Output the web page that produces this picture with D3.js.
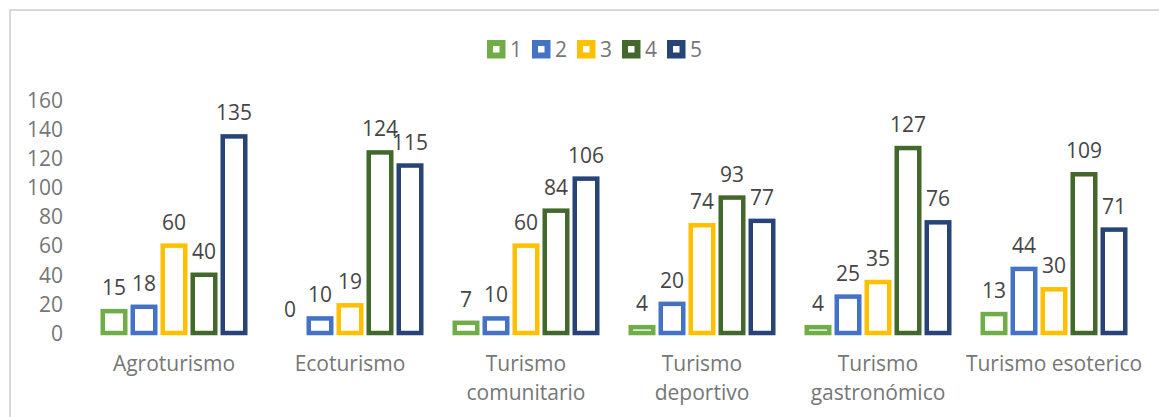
<!DOCTYPE html>
<html>
<head>
    <meta charset="utf-8">
    <script src="https://d3js.org/d3.v7.min.js"></script>
    <style>
        body { margin: 0; background: #fff; }
        text { font-family: "Open Sans", sans-serif; fill: #767676; }
        .tick-label, .value-label, .cat-label, .legend-label { font-size: 21px; }
        .value-label { fill: #454545; }
    </style>
</head>
<body>
<svg width="1159" height="417"></svg>
<script>
    // Data
    const categories = ["Agroturismo", "Ecoturismo", "Turismo\ncomunitario", "Turismo\ndeportivo", "Turismo\ngastronómico", "Turismo esoterico"];
    const seriesNames = ["1", "2", "3", "4", "5"];
    const s1 = [15, 0, 7, 4, 4, 13];
    const s2 = [18, 10, 10, 20, 25, 44];
    const s3 = [60, 19, 60, 74, 35, 30];
    const s4 = [40, 124, 84, 93, 127, 109];
    const s5 = [135, 115, 106, 77, 76, 71];
    const yTicks = [0, 20, 40, 60, 80, 100, 120, 140, 160];
    const seriesValues = [s1, s2, s3, s4, s5];
    const colors = ["#70AD47", "#4472C4", "#FFC000", "#43682B", "#264478"];

    const svg = d3.select("svg");
    const strokeW = 4.5;

    // Chart area border (open on the right and bottom, as in the picture)
    svg.append("rect")
        .attr("x", 10).attr("y", 10)
        .attr("width", 1200).attr("height", 500)
        .attr("fill", "none")
        .attr("stroke", "#d9d9d9")
        .attr("stroke-width", 2);

    // Scales
    const x0 = d3.scaleBand()
        .domain(categories)
        .range([86, 1142])
        .paddingInner(26 / 176)
        .paddingOuter(13 / 176);
    const x1 = d3.scaleBand()
        .domain(seriesNames)
        .range([0, x0.bandwidth()]);
    const y = d3.scaleLinear().domain([0, 160]).range([333, 100]);
    const color = d3.scaleOrdinal(seriesNames, colors);

    // Y axis labels (no line, no gridlines)
    const yAxis = svg.append("g")
        .attr("transform", "translate(63,0)")
        .call(d3.axisLeft(y).tickValues(yTicks).tickSize(0).tickPadding(0));
    yAxis.select(".domain").remove();
    yAxis.selectAll("text")
        .attr("class", "tick-label")
        .attr("font-family", null)
        .attr("font-size", null)
        .attr("fill", null)
        .attr("dy", "0.35em");

    // Bars
    const rows = categories.map((c, i) => seriesNames.map((s, j) => ({cat: c, series: s, value: seriesValues[j][i]})));
    const groups = svg.selectAll(".group")
        .data(rows)
        .enter().append("g")
        .attr("class", "group")
        .attr("transform", (d, i) => "translate(" + x0(categories[i]) + ",0)");

    const inset = 1.5 + strokeW / 2;
    groups.selectAll("rect")
        .data(d => d.filter(v => v.value > 0))
        .enter().append("rect")
        .attr("x", d => x1(d.series) + inset)
        .attr("width", x1.bandwidth() - 2 * inset)
        .attr("y", d => y(d.value))
        .attr("height", d => y(0) - y(d.value))
        .attr("fill", "none")
        .attr("stroke", d => color(d.series))
        .attr("stroke-width", strokeW);

    // Value labels
    groups.selectAll(".value-label")
        .data(d => d)
        .enter().append("text")
        .attr("class", "value-label")
        .attr("text-anchor", "middle")
        .attr("x", d => x1(d.series) + x1.bandwidth() / 2)
        .attr("y", d => y(d.value) - 16)
        .text(d => d.value);

    // Category labels
    const catLabels = svg.selectAll(".cat-label")
        .data(categories)
        .enter().append("text")
        .attr("class", "cat-label")
        .attr("text-anchor", "middle")
        .attr("x", d => x0(d) + x0.bandwidth() / 2)
        .attr("y", 371);
    catLabels.selectAll("tspan")
        .data(d => d.split("\n"))
        .enter().append("tspan")
        .attr("x", function () { return d3.select(this.parentNode).attr("x"); })
        .attr("dy", (d, i) => i === 0 ? 0 : 29)
        .text(d => d);

    // Legend
    const legend = svg.selectAll(".legend")
        .data(seriesNames)
        .enter().append("g")
        .attr("class", "legend")
        .attr("transform", (d, i) => "translate(" + (487 + i * 45) + ",40)");

    legend.append("rect")
        .attr("x", 3).attr("y", 3)
        .attr("width", 12.5).attr("height", 12.5)
        .attr("fill", "none")
        .attr("stroke", d => color(d))
        .attr("stroke-width", 6);

    legend.append("text")
        .attr("class", "legend-label")
        .attr("x", 23)
        .attr("y", 9.5)
        .attr("dy", "0.35em")
        .text(d => d);
</script>
</body>
</html>
